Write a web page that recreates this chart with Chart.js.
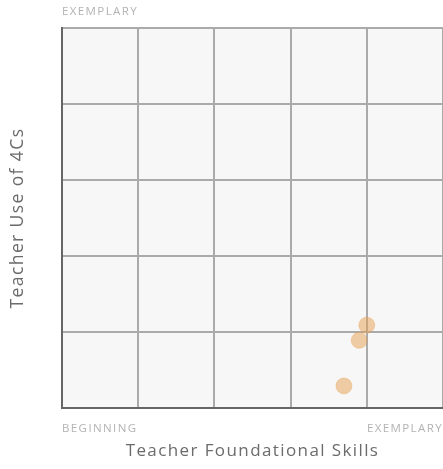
<!DOCTYPE html>
<html>
<head>
<meta charset="utf-8">
<script src="https://cdn.jsdelivr.net/npm/chart.js@4/dist/chart.umd.min.js"></script>
<style>
    html, body { margin: 0; padding: 0; background: #ffffff; overflow: hidden; }
    #wrap { width: 443px; height: 469px; position: relative; }
</style>
</head>
<body>
<div id="wrap"><canvas id="skillsChart"></canvas></div>
<script>
// values (scale 0..5 on both axes)
const foundationalSkills = [4.0, 3.9, 3.7];
const use4Cs = [1.09, 0.89, 0.29];
const xEndLabels = ['BEGINNING', 'EXEMPLARY'];
const yTopLabel = 'EXEMPLARY';
const xTitle = 'Teacher Foundational Skills';
const yTitle = 'Teacher Use of 4Cs';

document.addEventListener('DOMContentLoaded', () => {
    const canvas = document.getElementById('skillsChart');
    const fontFamily = '"Open Sans", sans-serif';
    const spacing = '1.4px';

    const points = foundationalSkills.map((x, i) => ({ x: x, y: use4Cs[i] }));

    // the reference font is wide, so open up the letters a bit
    const setSpacing = (chart) => { chart.ctx.letterSpacing = spacing; };

    // grey plot background + the label above the y axis
    const plotDecor = {
        id: 'plotDecor',
        beforeLayout: setSpacing,
        beforeDraw(chart) {
            setSpacing(chart);
            const { ctx, chartArea } = chart;
            ctx.save();
            ctx.fillStyle = '#f7f7f7';
            ctx.fillRect(chartArea.left, chartArea.top, chartArea.right - chartArea.left, chartArea.bottom - chartArea.top);
            ctx.restore();
        },
        afterDraw(chart) {
            const { ctx, chartArea } = chart;
            ctx.save();
            ctx.font = '11.5px ' + fontFamily;
            ctx.fillStyle = '#b3b3b3';
            ctx.textAlign = 'left';
            ctx.textBaseline = 'alphabetic';
            ctx.fillText(yTopLabel, chartArea.left, chartArea.top - 13);
            ctx.restore();
        }
    };

    new Chart(canvas, {
        type: 'scatter',
        data: {
            datasets: [{
                data: points,
                backgroundColor: 'rgba(232, 160, 80, 0.5)',
                borderColor: 'rgba(232, 160, 80, 0.35)',
                borderWidth: 1,
                pointRadius: 8,
                pointHoverRadius: 8
            }]
        },
        options: {
            responsive: true,
            maintainAspectRatio: false,
            animation: false,
            layout: { autoPadding: false, padding: { top: 28, right: 0, left: 0, bottom: 0 } },
            plugins: {
                legend: { display: false },
                tooltip: { enabled: false }
            },
            scales: {
                x: {
                    min: 0,
                    max: 5,
                    afterFit(scale) {
                        scale.height = 61;
                        scale.paddingLeft = 0;
                        scale.paddingRight = 0;
                    },
                    ticks: {
                        stepSize: 1,
                        align: 'inner',
                        maxRotation: 0,
                        autoSkip: false,
                        padding: 14,
                        color: '#b3b3b3',
                        font: { family: fontFamily, size: 11.5 },
                        callback: (v) => v === 0 ? xEndLabels[0] : (v === 5 ? xEndLabels[1] : '')
                    },
                    grid: { color: '#aaaaaa', lineWidth: 2, drawTicks: false },
                    border: { color: '#666666', width: 2 },
                    title: {
                        display: true,
                        text: xTitle,
                        color: '#6b6b6b',
                        font: { family: fontFamily, size: 17 },
                        padding: { top: 0, bottom: 8 }
                    }
                },
                y: {
                    min: 0,
                    max: 5,
                    afterFit(scale) { scale.width = 62; },
                    ticks: { stepSize: 1, display: false },
                    grid: { color: '#aaaaaa', lineWidth: 2, drawTicks: false },
                    border: { color: '#666666', width: 2 },
                    title: {
                        display: true,
                        text: yTitle,
                        color: '#6b6b6b',
                        font: { family: fontFamily, size: 17.5 },
                        padding: { top: 8, bottom: 0 }
                    }
                }
            }
        },
        plugins: [plotDecor]
    });
});
</script>
</body>
</html>
